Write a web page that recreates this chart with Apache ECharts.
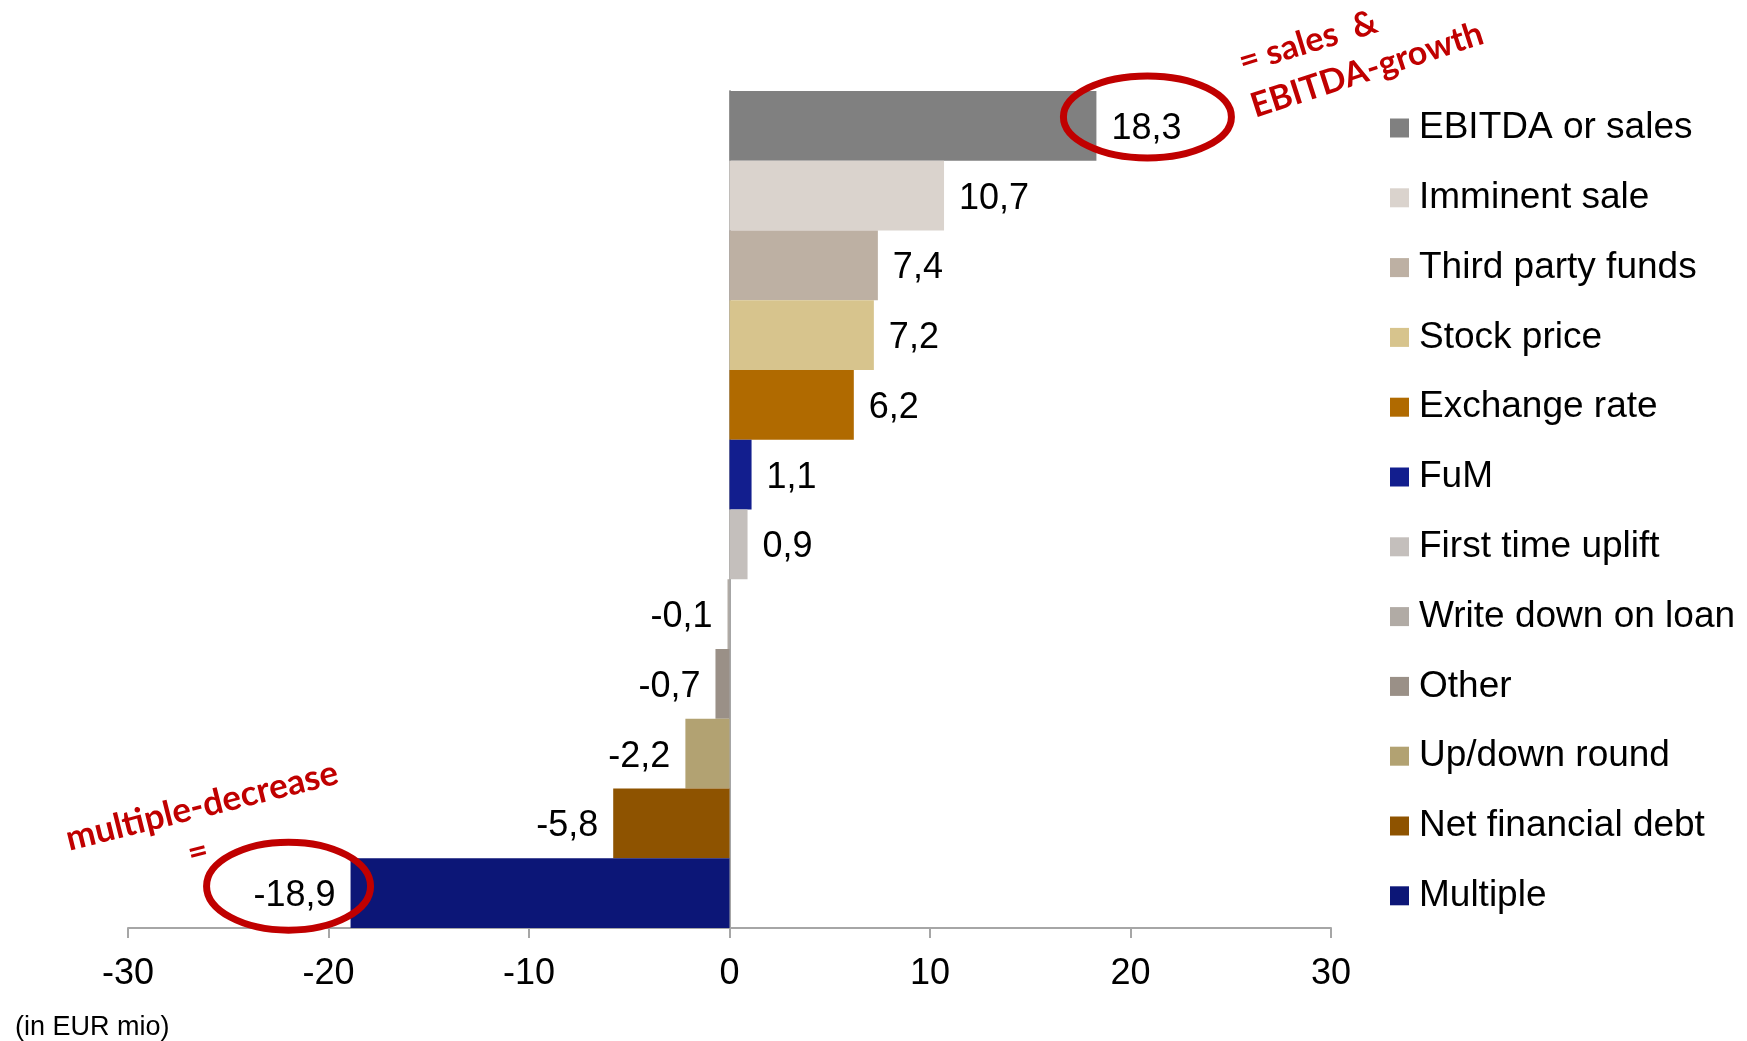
<!DOCTYPE html>
<html>
<head>
<meta charset="utf-8">
<script src="https://cdn.jsdelivr.net/npm/echarts@6/dist/echarts.min.js"></script>
<style>
html,body{margin:0;padding:0;background:#fff;}
#chart{width:1747px;height:1041px;}
</style>
</head>
<body>
<div id="chart"></div>
<script>
// Categories (top to bottom)
const categories = ["EBITDA or sales","Imminent sale","Third party funds","Stock price","Exchange rate","FuM","First time uplift","Write down on loan","Other","Up/down round","Net financial debt","Multiple"];
// Values in EUR mio
const values = [18.3, 10.7, 7.4, 7.2, 6.2, 1.1, 0.9, -0.1, -0.7, -2.2, -5.8, -18.9];
// Bar colours
const colors = ["#808080","#DAD3CD","#BDB0A3","#D7C48D","#B06A00","#121E8E","#C4BFBC","#B1ABA5","#9A9087","#B2A272","#8E5300","#0C1677"];
// Axis ticks
const xTicks = [-30, -20, -10, 0, 10, 20, 30];

const FONT = 'Liberation Sans, Arial, Helvetica, sans-serif';
const RED = '#C00000';
const RED_FONT = 'bold 34px Lato, "Open Sans", sans-serif';

const chart = echarts.init(document.getElementById('chart'), null, {renderer: 'canvas'});

const series = categories.map((name, i) => ({
  name: name,
  type: 'bar',
  stack: 'all',
  barCategoryGap: '0%',
  itemStyle: {color: colors[i]},
  label: {
    show: true,
    distance: 15,
    offset: [0, 3],
    color: '#000',
    fontFamily: FONT,
    fontSize: 36,
    formatter: p => String(p.value).replace('.', ',')
  },
  data: categories.map((c, j) => j === i
    ? {value: values[i], label: {position: values[i] >= 0 ? 'right' : 'left'}}
    : '-')
}));

chart.setOption({
  animation: false,
  backgroundColor: '#fff',
  grid: {left: 128, right: 416, top: 91, bottom: 113, containLabel: false},
  xAxis: {
    type: 'value',
    min: xTicks[0],
    max: xTicks[xTicks.length - 1],
    interval: 10,
    splitLine: {show: false},
    axisLine: {show: true, lineStyle: {color: '#A6A6A6', width: 2}},
    axisTick: {show: true, length: 10, lineStyle: {color: '#A6A6A6', width: 2}},
    axisLabel: {color: '#000', fontFamily: FONT, fontSize: 36, margin: 28}
  },
  yAxis: {
    type: 'category',
    inverse: true,
    data: categories,
    axisLine: {show: true, onZero: true, lineStyle: {color: '#A6A6A6', width: 2}},
    axisTick: {show: false},
    axisLabel: {show: false},
    splitLine: {show: false}
  },
  legend: {
    orient: 'vertical',
    left: 1390,
    top: 108,
    padding: 0,
    icon: 'rect',
    itemWidth: 19,
    itemHeight: 19,
    itemGap: 29.8,
    data: categories,
    textStyle: {color: '#000', fontFamily: FONT, fontSize: 37, lineHeight: 40, padding: [0, 0, 0, 5]}
  },
  series: series
});

// Annotations anchored to the data labels
const pTop = chart.convertToPixel({gridIndex: 0}, [values[0], categories[0]]);
const last = values.length - 1;
const pBot = chart.convertToPixel({gridIndex: 0}, [values[last], categories[last]]);

chart.setOption({
  graphic: [
    {
      type: 'ellipse',
      shape: {cx: pTop[0] + 51, cy: pTop[1] - 9, rx: 84, ry: 41},
      style: {fill: 'none', stroke: RED, lineWidth: 7},
      z: 100
    },
    {
      type: 'ellipse',
      shape: {cx: pBot[0] - 62, cy: pBot[1] - 7, rx: 82, ry: 44},
      style: {fill: 'none', stroke: RED, lineWidth: 7},
      z: 100
    },
    {
      type: 'text', x: 1308, y: 42, rotation: 17 * Math.PI / 180,
      style: {text: '= sales  &', fill: RED, font: RED_FONT, align: 'center', verticalAlign: 'middle'},
      z: 100
    },
    {
      type: 'text', x: 1367, y: 70, rotation: 18 * Math.PI / 180,
      style: {text: 'EBITDA-growth', fill: RED, font: RED_FONT, align: 'center', verticalAlign: 'middle'},
      z: 100
    },
    {
      type: 'text', x: 202, y: 806, rotation: 14 * Math.PI / 180,
      style: {text: 'multiple-decrease', fill: RED, font: 'bold 35px Lato, "Open Sans", sans-serif', align: 'center', verticalAlign: 'middle'},
      z: 100
    },
    {
      type: 'text', x: 198, y: 852, rotation: 14 * Math.PI / 180,
      style: {text: '=', fill: RED, font: RED_FONT, align: 'center', verticalAlign: 'middle'},
      z: 100
    },
    {
      type: 'text', left: 15, top: 1014,
      style: {text: '(in EUR mio)', fill: '#000', font: '27px Liberation Sans, Arial, sans-serif'},
      z: 100
    }
  ]
});
</script>
</body>
</html>
